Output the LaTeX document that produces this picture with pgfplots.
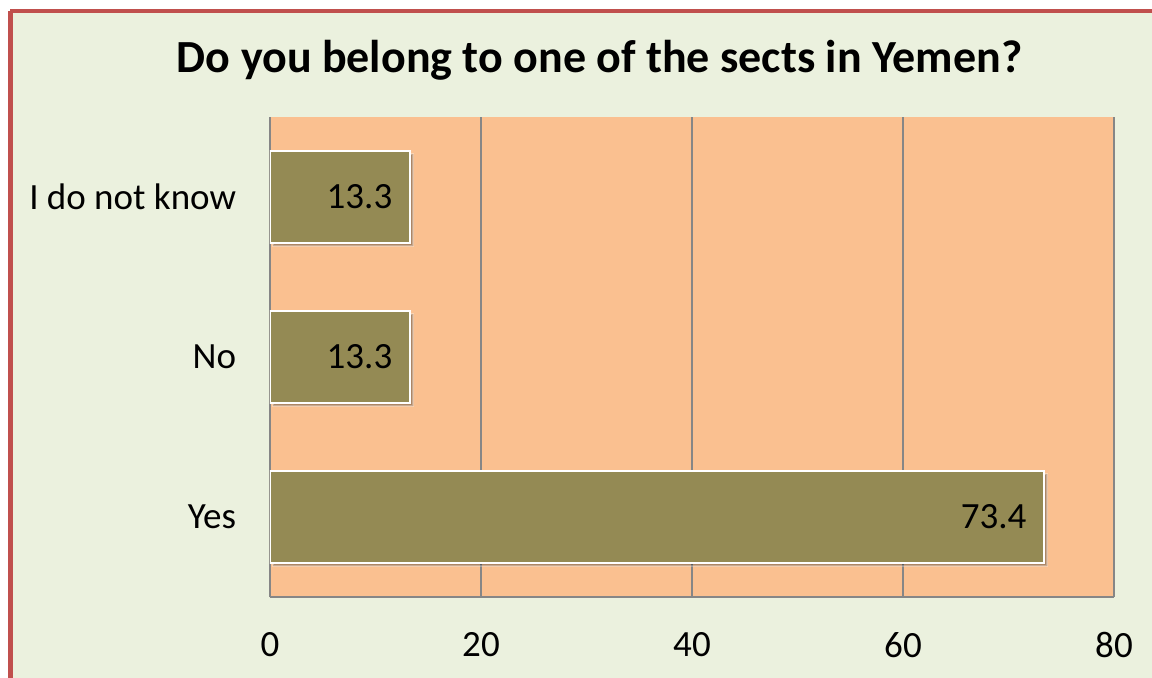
\documentclass[border=0pt]{standalone}
\usepackage{fontspec}
\setmainfont{Carlito}
\usepackage{pgfplots}
\pgfplotsset{compat=1.18}
\definecolor{chartbg}{HTML}{EBF1DE}
\definecolor{plotbg}{HTML}{FAC090}
\definecolor{barcol}{HTML}{948A54}
\definecolor{framecol}{HTML}{C0504D}
\definecolor{gridgray}{HTML}{868686}
\begin{document}
\begin{tikzpicture}[x=0.5pt,y=0.5pt]
\useasboundingbox (0,0) rectangle (1152,677);
\begin{scope}
\clip (0,0) rectangle (1152,677);
\fill[white] (0,0) rectangle (1152,677);
\fill[chartbg] (10,-20) rectangle (1200,666);
\draw[line width=2.5pt, color=framecol] (10,-20) -- (10,666);
\draw[line width=1.8pt, color=framecol] (10,666) -- (1200,666);
\end{scope}
\node[font=\bfseries\fontsize{23}{27}\selectfont, anchor=base] at (599.5,605) {Do you belong to one of the sects in Yemen?};
\begin{axis}[
  at={(135pt,40pt)}, anchor=south west,
  scale only axis, width=422pt, height=240pt,
  xbar, xmin=0, xmax=80, ymin=-0.5, ymax=2.5,
  bar width=0.575,
  ytick={0,1,2}, yticklabels={Yes,No,I do not know},
  xtick={0,20,40,60,80},
  xmajorgrids,
  grid style={color=gridgray, line width=0.75pt},
  axis x line*=bottom, axis y line*=left,
  axis line style={color=gridgray, line width=0.75pt},
  tick style={draw=none},
  axis background/.style={fill=plotbg},
  /pgf/number format/assume math mode=true,
  /pgf/number format/fixed, /pgf/number format/precision=1,
  tick label style={font=\fontsize{18.5}{20}\selectfont},
  yticklabel style={inner sep=0pt, xshift=-12.5pt},
  xticklabel style={inner sep=0pt, yshift=-17.5pt},
  nodes near coords,
  every node near coord/.append style={anchor=east, inner sep=0pt, xshift=-8.5pt, font=\fontsize{18.5}{20}\selectfont, text=black},
]
\addplot[fill=barcol, draw=white, line width=1pt,
  preaction={fill=black, opacity=0.3, transform canvas={xshift=1.5pt, yshift=-1.5pt}}]
  coordinates {(73.4,0) (13.3,1) (13.3,2)};
\end{axis}
\end{tikzpicture}
\end{document}
